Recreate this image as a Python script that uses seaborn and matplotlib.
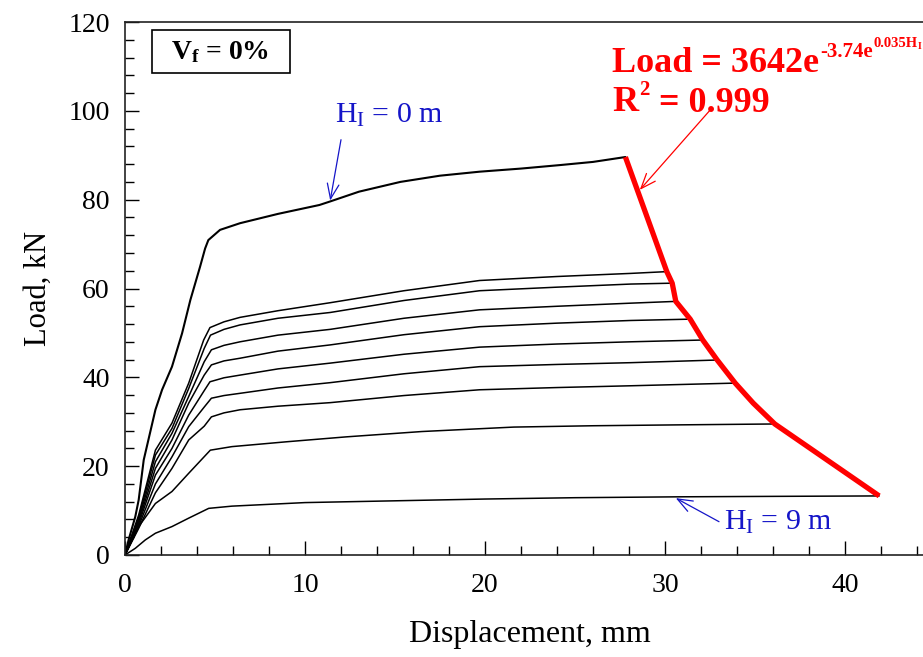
import numpy as np
import pandas as pd
import matplotlib
matplotlib.use("Agg")
import matplotlib.pyplot as plt
import seaborn as sns
from matplotlib.ticker import MultipleLocator
from matplotlib.patches import Rectangle

# ---------------- data ----------------
H0_disp = [0, 0.2, 0.57, 0.76, 1.04, 1.69, 2.06, 2.61, 3.17, 3.63, 4.17, 4.45, 4.63, 5.28, 6.39, 8.5, 10.8, 11.4, 13.0, 15.3, 17.5, 19.7, 22.0, 24.2, 26.0, 27.8]
H0_load = [0, 3.4, 8.6, 12.4, 21.4, 32.7, 37.2, 42.4, 49.9, 57.4, 64.9, 69.0, 70.9, 73.2, 74.7, 76.8, 78.8, 79.6, 81.8, 84.0, 85.4, 86.3, 87.0, 87.8, 88.5, 89.6]

H1_disp = [0, 0.76, 1.69, 2.61, 3.54, 4.37, 4.72, 5.5, 6.39, 8.5, 11.4, 15.5, 19.7, 24.0, 28.1, 30.1]
H1_load = [0, 9.0, 23.6, 29.7, 38.7, 48.4, 51.2, 52.5, 53.5, 55.0, 56.8, 59.5, 61.8, 62.7, 63.4, 63.8]

H2_disp = [0, 0.76, 1.69, 2.61, 3.54, 4.4, 4.75, 5.5, 6.39, 8.5, 11.4, 15.5, 19.7, 24.0, 28.1, 30.4]
H2_load = [0, 8.5, 22.5, 28.5, 37.5, 46.5, 49.5, 50.8, 51.8, 53.3, 54.6, 57.3, 59.5, 60.3, 61.0, 61.2]

H3_disp = [0, 0.76, 1.69, 2.61, 3.54, 4.4, 4.8, 5.5, 6.39, 8.5, 11.4, 15.5, 19.7, 24.0, 28.1, 30.6]
H3_load = [0, 8.0, 21.0, 27.4, 35.7, 43.5, 46.2, 47.2, 48.0, 49.5, 50.8, 53.3, 55.2, 56.0, 56.7, 57.1]

H4_disp = [0, 0.76, 1.69, 2.61, 3.54, 4.4, 4.8, 5.5, 6.39, 8.5, 11.4, 15.5, 19.7, 24.0, 28.1, 31.4]
H4_load = [0, 7.5, 19.5, 25.9, 34.2, 40.5, 42.8, 43.7, 44.3, 45.9, 47.3, 49.6, 51.4, 52.2, 52.8, 53.1]

H5_disp = [0, 0.76, 1.69, 2.61, 3.54, 4.4, 4.72, 5.5, 6.39, 8.5, 11.4, 15.5, 19.7, 24.0, 28.1, 32.1]
H5_load = [0, 7.0, 18.0, 24.0, 31.5, 37.0, 39.0, 39.9, 40.5, 41.9, 43.2, 45.2, 46.8, 47.5, 48.0, 48.4]

H6_disp = [0, 0.76, 1.69, 2.61, 3.54, 4.4, 4.8, 5.5, 6.39, 8.5, 11.4, 15.5, 19.7, 24.0, 28.1, 32.9]
H6_load = [0, 6.5, 16.0, 22.1, 28.9, 33.3, 35.3, 35.9, 36.4, 37.6, 38.8, 40.8, 42.4, 42.9, 43.3, 43.9]

H7_disp = [0, 0.76, 1.69, 2.61, 3.54, 4.4, 4.8, 5.5, 6.39, 8.5, 11.4, 15.5, 19.7, 24.0, 28.1, 33.9]
H7_load = [0, 6.0, 14.0, 19.5, 25.9, 29.0, 31.1, 32.0, 32.7, 33.5, 34.3, 35.9, 37.2, 37.7, 38.1, 38.7]

H8_disp = [0, 0.76, 1.69, 2.61, 3.54, 4.74, 5.94, 9.0, 12.3, 16.5, 21.6, 26.0, 30.8, 36.1]
H8_load = [0, 6.4, 11.6, 14.3, 18.4, 23.6, 24.4, 25.5, 26.6, 27.8, 28.8, 29.1, 29.3, 29.5]

H9_disp = [0, 0.57, 1.13, 1.69, 2.61, 3.54, 4.65, 5.94, 10.0, 15.0, 20.0, 25.0, 30.8, 36.0, 41.9]
H9_load = [0, 1.5, 3.4, 4.9, 6.4, 8.3, 10.5, 11.0, 11.8, 12.2, 12.6, 12.9, 13.1, 13.2, 13.3]

# ultimate-load envelope (red)
env_disp = [27.8, 30.1, 30.4, 30.6, 31.4, 32.1, 32.9, 33.9, 34.9, 36.1, 41.9]
env_load = [89.6, 63.8, 61.2, 57.1, 53.1, 48.4, 43.9, 38.7, 34.2, 29.5, 13.3]

curves_disp = [H0_disp, H1_disp, H2_disp, H3_disp, H4_disp, H5_disp, H6_disp, H7_disp, H8_disp, H9_disp]
curves_load = [H0_load, H1_load, H2_load, H3_load, H4_load, H5_load, H6_load, H7_load, H8_load, H9_load]
H_values = list(range(10))

x_ticks = [0, 10, 20, 30, 40]
y_ticks = [0, 20, 40, 60, 80, 100, 120]

# ---------------- style ----------------
sns.set_theme(style="ticks")
plt.rcParams["font.family"] = ["Liberation Serif", "DejaVu Serif"]
plt.rcParams["mathtext.fontset"] = "custom"
plt.rcParams["mathtext.rm"] = "Liberation Serif"
plt.rcParams["mathtext.it"] = "Liberation Serif:italic"
plt.rcParams["mathtext.bf"] = "Liberation Serif:bold"
for k in ["text.color", "axes.labelcolor", "xtick.color", "ytick.color", "axes.edgecolor"]:
    plt.rcParams[k] = "black"

rows = []
for h, xs, ys in zip(H_values, curves_disp, curves_load):
    for i, (xv, yv) in enumerate(zip(xs, ys)):
        rows.append({"H": h, "order": i, "disp": xv, "load": yv})
df = pd.DataFrame(rows)

fig = plt.figure(figsize=(9.23, 6.57), dpi=100)
ax = fig.add_axes([125 / 923, 102 / 657, 810 / 923, 533 / 657])

sns.lineplot(data=df[df.H > 0], x="disp", y="load", units="H", estimator=None,
             sort=False, color="black", lw=1.1, ax=ax)
sns.lineplot(data=df[df.H == 0], x="disp", y="load", estimator=None,
             sort=False, color="black", lw=1.5, ax=ax)
env = pd.DataFrame({"disp": env_disp, "load": env_load})
sns.lineplot(data=env, x="disp", y="load", estimator=None, sort=False,
             color="#FF0000", lw=3.8, ax=ax, solid_capstyle="butt")

ax.set_xlim(0, 45)
ax.set_ylim(0, 120)
ax.set_xticks(x_ticks)
ax.set_yticks(y_ticks)
ax.xaxis.set_minor_locator(MultipleLocator(2))
ax.yaxis.set_minor_locator(MultipleLocator(4))
ax.tick_params(which="both", direction="in", color="black", width=1.0,
               top=False, right=False)
ax.tick_params(which="major", length=10, labelsize=20)
ax.tick_params(axis="x", which="major", pad=13)
ax.tick_params(axis="y", which="major", pad=11)
ax.tick_params(which="minor", length=6.5)
for s in ax.spines.values():
    s.set_linewidth(1.2)
    s.set_color("#222222")

ax.set_xlabel("Displacement, mm", fontsize=23, labelpad=16)
ax.set_ylabel("Load, kN", fontsize=22, labelpad=11)

# V_f box
ax.add_patch(Rectangle((1.5, 108.6), 7.67, 9.6, facecolor="white",
                       edgecolor="black", lw=1.2, zorder=5))
ax.text(5.3, 113.3, r"$\mathbf{V_f}$ = 0%", fontsize=20, fontweight="bold",
        ha="center", va="center", zorder=6)

# equation, built from pieces so the nested exponents keep their size
red = "#FF0000"
def chain(prev, s, size, dy, dx=0.5):
    return ax.annotate(s, xy=(1, 0), xycoords=prev, xytext=(dx, dy),
                       textcoords="offset points", color=red, fontsize=size,
                       fontweight="bold", ha="left", va="baseline")

t1 = ax.text(27.06, 108.8, "Load = 3642e", color=red, fontsize=26,
             fontweight="bold", ha="left", va="baseline")
t2 = chain(t1, "-3.74e", 15, 16.5)
t3 = chain(t2, "0.035H", 10.5, 10.5)
t4 = chain(t3, "I", 7, 1.0)

r1 = ax.text(27.06, 100.0, "R", color=red, fontsize=26, fontweight="bold",
             ha="left", va="baseline")
r2 = chain(r1, "2", 15, 17, dx=1)
chain(r2, " = 0.999", 26, -8.2, dx=0)

ax.annotate("", xy=(28.6, 82.2), xytext=(32.6, 100.6),
            arrowprops=dict(arrowstyle="->,head_length=0.9,head_width=0.35",
                            color=red, lw=0.9, shrinkA=0, shrinkB=0))

blue = "#1515C8"
ax.text(11.67, 97.3, r"$\mathrm{H_I}$ = 0 m", color=blue, fontsize=21.5,
        ha="left", va="baseline")
ax.annotate("", xy=(11.4, 79.8), xytext=(12.0, 93.5),
            arrowprops=dict(arrowstyle="->,head_length=0.9,head_width=0.35",
                            color=blue, lw=0.9, shrinkA=0, shrinkB=0))
ax.text(33.3, 5.6, r"$\mathrm{H_I}$ = 9 m", color=blue, fontsize=21.5,
        ha="left", va="baseline")
ax.annotate("", xy=(30.6, 12.8), xytext=(33.0, 7.5),
            arrowprops=dict(arrowstyle="->,head_length=0.9,head_width=0.35",
                            color=blue, lw=0.9, shrinkA=0, shrinkB=0))

fig.savefig("out.png", dpi=100)
